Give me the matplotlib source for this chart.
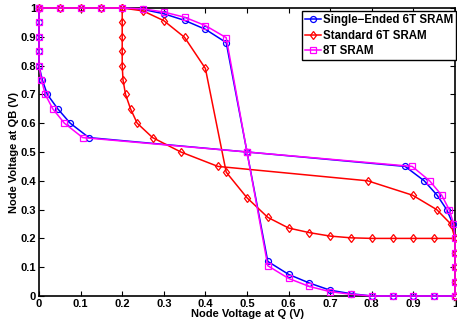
import matplotlib
matplotlib.use("Agg")
import matplotlib.pyplot as plt
import numpy as np

plt.rcParams['font.family'] = ['Liberation Sans', 'DejaVu Sans']

# Input voltage sweep (V)
vin = [0.0, 0.05, 0.1, 0.15, 0.2, 0.25, 0.3, 0.35, 0.4, 0.45, 0.5,
       0.55, 0.6, 0.65, 0.7, 0.75, 0.8, 0.85, 0.9, 0.95, 1.0]

# Voltage transfer characteristics (output vs input)
vtc_single_ended_6t = [1, 1, 1, 1, 1, 0.995, 0.98, 0.957, 0.926, 0.88, 0.5,
                       0.12, 0.075, 0.045, 0.02, 0.008, 0, 0, 0, 0, 0]
vtc_standard_6t = [1, 1, 1, 1, 1, 0.99, 0.956, 0.898, 0.79, 0.43, 0.341,
                   0.273, 0.236, 0.22, 0.208, 0.202, 0.2, 0.2, 0.2, 0.2, 0.2]
vtc_8t = [1, 1, 1, 1, 1, 0.997, 0.986, 0.968, 0.939, 0.897, 0.5,
          0.105, 0.061, 0.033, 0.015, 0.006, 0, 0, 0, 0, 0]

labels = ['Single\u2212Ended 6T SRAM', 'Standard 6T SRAM', '8T SRAM']
colors = ['#0000ff', '#ff0000', '#ff00ff']
markers = ['o', 'd', 's']
msizes = [4.3, 4.3, 3.7]

fig = plt.figure(figsize=(4.57, 3.24), dpi=100)
ax = fig.add_axes([39/457, 28/324, 416/457, 288/324])

for vtc, lab, c, m, ms in zip([vtc_single_ended_6t, vtc_standard_6t, vtc_8t],
                              labels, colors, markers, msizes):
    ax.plot(vin, vtc, color=c, marker=m, ms=ms, mfc='none', mew=0.9, lw=1.1,
            label=lab, clip_on=False, zorder=3)
    ax.plot(vtc, vin, color=c, marker=m, ms=ms, mfc='none', mew=0.9, lw=1.1,
            clip_on=False, zorder=3)

ax.set_xlim(0, 1)
ax.set_ylim(0, 1)
ticks = np.round(np.arange(0, 1.01, 0.1), 1)
ticklabels = ['0'] + ['%.1f' % t for t in ticks[1:-1]] + ['1']
ax.set_xticks(ticks)
ax.set_xticklabels(ticklabels)
ax.set_yticks(ticks)
ax.set_yticklabels(ticklabels)
ax.tick_params(direction='in', length=3.5, width=0.8, top=True, right=True,
               labelsize=8, pad=2)
for lbl in ax.get_xticklabels() + ax.get_yticklabels():
    lbl.set_fontweight('bold')
for sp in ax.spines.values():
    sp.set_linewidth(1.2)

ax.set_xlabel('Node Voltage at Q (V)', fontsize=8, fontweight='bold', labelpad=0)
ax.set_ylabel('Node Voltage at QB (V)', fontsize=8, fontweight='bold', labelpad=1)

leg = ax.legend(loc='upper right', bbox_to_anchor=(1.003, 0.988), borderaxespad=0,
                prop={'size': 8.3, 'weight': 'bold'}, handlelength=1.4,
                handletextpad=0.2, labelspacing=0.3, borderpad=0.25,
                fancybox=False, framealpha=1, edgecolor='black')
leg.get_frame().set_linewidth(1.0)

fig.savefig('out.png', dpi=100)
